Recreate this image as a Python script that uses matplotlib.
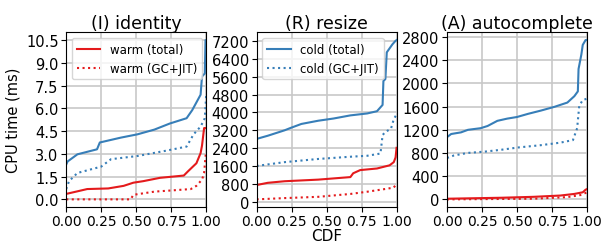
import matplotlib
matplotlib.use("Agg")
import matplotlib.pyplot as plt
import numpy as np

RED = "#e41a1c"
BLUE = "#377eb8"

# identity (ms): (cdf, value) pairs
id_cold_total_x = [0.0, 0.01, 0.08, 0.22, 0.24, 0.39, 0.51, 0.63, 0.74, 0.86, 0.90, 0.96, 0.97, 0.99, 0.995, 1.0]
id_cold_total_y = [2.3, 2.5, 2.97, 3.3, 3.75, 4.07, 4.29, 4.6, 5.0, 5.35, 5.88, 6.9, 8.1, 8.3, 10.5, 10.5]
id_cold_gc_x = [0.0, 0.02, 0.08, 0.25, 0.32, 0.51, 0.72, 0.86, 0.91, 0.96, 0.99, 0.997, 1.0]
id_cold_gc_y = [0.68, 1.2, 1.74, 2.16, 2.65, 2.86, 3.22, 3.48, 4.29, 4.8, 5.35, 6.4, 7.0]
id_warm_total_x = [0.0, 0.08, 0.15, 0.3, 0.41, 0.48, 0.55, 0.67, 0.84, 0.87, 0.93, 0.96, 0.97, 0.985, 1.0]
id_warm_total_y = [0.36, 0.53, 0.68, 0.72, 0.89, 1.1, 1.2, 1.42, 1.57, 1.85, 2.38, 3.05, 3.54, 4.7, 4.7]
id_warm_gc_x = [0.0, 0.46, 0.48, 0.63, 0.77, 0.89, 0.93, 0.97, 0.985, 0.997, 1.0]
id_warm_gc_y = [0.0, 0.0, 0.3, 0.51, 0.6, 0.68, 0.89, 1.3, 1.74, 3.0, 3.0]

# resize
rs_cold_total_x = [0.0, 0.08, 0.2, 0.24, 0.32, 0.44, 0.55, 0.67, 0.79, 0.86, 0.90, 0.906, 0.92, 0.93, 0.97, 0.99, 1.0]
rs_cold_total_y = [2814, 2957, 3200, 3300, 3486, 3630, 3730, 3870, 3957, 4057, 4340, 5414, 5500, 6700, 7057, 7200, 7250]
rs_cold_gc_x = [0.0, 0.2, 0.44, 0.67, 0.79, 0.885, 0.9, 0.92, 0.96, 0.98, 1.0]
rs_cold_gc_y = [1600, 1771, 1914, 2014, 2057, 2157, 2986, 3128, 3271, 3700, 3914]
rs_warm_total_x = [0.0, 0.08, 0.2, 0.44, 0.67, 0.69, 0.74, 0.86, 0.95, 0.98, 0.993, 1.0]
rs_warm_total_y = [743, 843, 914, 986, 1100, 1271, 1414, 1486, 1628, 1771, 1986, 2414]
rs_warm_gc_x = [0.0, 0.2, 0.44, 0.67, 0.79, 0.91, 0.98, 1.0]
rs_warm_gc_y = [100, 157, 214, 343, 443, 557, 628, 814]

# autocomplete
ac_cold_total_x = [0.0, 0.03, 0.1, 0.15, 0.24, 0.29, 0.36, 0.43, 0.5, 0.58, 0.67, 0.77, 0.86, 0.91, 0.935, 0.94, 0.96, 0.97, 0.99, 1.0]
ac_cold_total_y = [1072, 1127, 1155, 1199, 1227, 1265, 1354, 1392, 1420, 1475, 1530, 1597, 1669, 1779, 1862, 2248, 2497, 2663, 2746, 2746]
ac_cold_gc_x = [0.0, 0.05, 0.15, 0.27, 0.39, 0.51, 0.67, 0.81, 0.9, 0.93, 0.945, 0.97, 1.0]
ac_cold_gc_y = [713, 757, 801, 823, 856, 895, 934, 978, 1022, 1227, 1613, 1713, 1735]
ac_warm_total_x = [0.0, 0.39, 0.62, 0.81, 0.91, 0.97, 0.99, 1.0]
ac_warm_total_y = [11, 28, 44, 66, 94, 122, 166, 177]
ac_warm_gc_x = [0.0, 0.62, 0.86, 0.96, 1.0]
ac_warm_gc_y = [0, 11, 39, 77, 122]

titles = ["(I) identity", "(R) resize", "(A) autocomplete"]
yticks = [np.arange(0, 10.6, 1.5), np.arange(0, 7201, 800), np.arange(0, 2801, 400)]
series = [
    (id_cold_total_x, id_cold_total_y, id_cold_gc_x, id_cold_gc_y,
     id_warm_total_x, id_warm_total_y, id_warm_gc_x, id_warm_gc_y),
    (rs_cold_total_x, rs_cold_total_y, rs_cold_gc_x, rs_cold_gc_y,
     rs_warm_total_x, rs_warm_total_y, rs_warm_gc_x, rs_warm_gc_y),
    (ac_cold_total_x, ac_cold_total_y, ac_cold_gc_x, ac_cold_gc_y,
     ac_warm_total_x, ac_warm_total_y, ac_warm_gc_x, ac_warm_gc_y),
]

fig, axes = plt.subplots(1, 3, figsize=(6.02, 2.51), dpi=100)
fig.subplots_adjust(left=0.11, right=0.975, top=0.868, bottom=0.17, wspace=0.36)

for i, ax in enumerate(axes):
    ctx, cty, cgx, cgy, wtx, wty, wgx, wgy = series[i]
    ax.plot(ctx, cty, color=BLUE, lw=1.5, label="cold (total)")
    ax.plot(cgx, cgy, color=BLUE, lw=1.5, ls=":", label="cold (GC+JIT)")
    ax.plot(wtx, wty, color=RED, lw=1.5, label="warm (total)")
    ax.plot(wgx, wgy, color=RED, lw=1.5, ls=":", label="warm (GC+JIT)")
    ax.set_xlim(0, 1)
    ax.set_xticks([0, 0.25, 0.5, 0.75, 1.0])
    ax.set_xticklabels(["0.00", "0.25", "0.50", "0.75", "1.00"])
    ax.set_yticks(yticks[i])
    ax.grid(True, color="#c8c8c8", lw=1.2)
    ax.set_axisbelow(True)
    ax.tick_params(axis="y", labelsize=10.5, pad=2)
    ax.tick_params(axis="x", labelsize=10, pad=1)
    ax.set_title(titles[i], fontsize=12.5, pad=3)

axes[0].yaxis.set_major_formatter(matplotlib.ticker.FormatStrFormatter("%.1f"))
axes[0].set_ylabel("CPU time (ms)", fontsize=10.5)
axes[1].set_xlabel("CDF", fontsize=11, labelpad=0.5)

h, l = axes[0].get_legend_handles_labels()
axes[0].legend(h[2:], l[2:], loc="upper left", fontsize=8.5, framealpha=0.8)
axes[1].legend(h[:2], l[:2], loc="upper left", fontsize=8.5, framealpha=0.8)

fig.savefig("out.png", dpi=100)
